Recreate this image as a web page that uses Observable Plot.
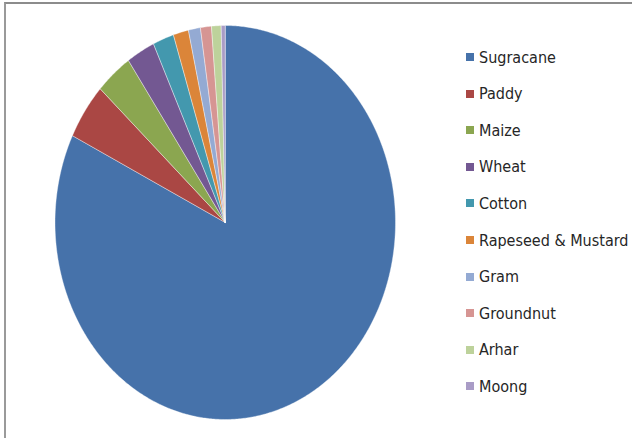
<!DOCTYPE html>
<html>
<head>
<meta charset="utf-8">
<script src="https://cdn.jsdelivr.net/npm/d3@7"></script>
<script src="https://cdn.jsdelivr.net/npm/@observablehq/plot@0.6"></script>
<style>
  html, body { margin: 0; padding: 0; background: #fff; }
  #wrap { position: relative; width: 632px; height: 438px; overflow: hidden; }
  #frame { position: absolute; left: 4px; top: 2px; right: 0; bottom: 0; border-top: 2px solid #8c8c8c; border-left: 2px solid #9a9a9a; }
  #chart { position: absolute; left: 0; top: 0; }
  #legend { position: absolute; left: 466px; top: 0; font-family: "Liberation Sans Narrow", "DejaVu Sans Condensed", sans-serif; font-size: 16px; color: #262626; }
  .item { position: absolute; left: 0; white-space: nowrap; display: flex; align-items: center; height: 20px; }
  .sw { width: 8px; height: 8px; margin-right: 5px; }
</style>
</head>
<body>
<div id="wrap">
  <div id="frame"></div>
  <div id="chart"></div>
  <div id="legend"></div>
</div>
<script>
const crops = ["Sugracane", "Paddy", "Maize", "Wheat", "Cotton", "Rapeseed & Mustard", "Gram", "Groundnut", "Arhar", "Moong"];
const shares = [82.2, 4.6, 3.5, 2.7, 2.0, 1.45, 1.14, 1.04, 0.91, 0.38];
const colors = ["#4672aa", "#aa4744", "#8ba650", "#735892", "#4398ae", "#db8539", "#94aad3", "#d69593", "#bdd29b", "#a99cc6"];

const total = d3.sum(shares);
const pts = [];
let acc = 0;
crops.forEach((name, i) => {
  const a0 = acc / total * 2 * Math.PI;
  acc += shares[i];
  const a1 = acc / total * 2 * Math.PI;
  const n = Math.max(2, Math.ceil((a1 - a0) / (Math.PI / 360)));
  pts.push({name, x: 0, y: 0});
  for (let k = 0; k <= n; k++) {
    const t = a0 + (a1 - a0) * k / n;
    pts.push({name, x: Math.sin(t), y: Math.cos(t)});
  }
  pts.push({name, x: 0, y: 0});
});

const plot = Plot.plot({
  width: 632,
  height: 438,
  margin: 0,
  x: {domain: [-1, 1], range: [54.5, 395], axis: null},
  y: {domain: [-1, 1], range: [419, 25], axis: null},
  color: {domain: crops, range: colors},
  style: {background: "transparent"},
  marks: [
    Plot.line(pts, {x: "x", y: "y", z: "name", fill: "name", stroke: "#ffffff", strokeWidth: 0.7, strokeOpacity: 0.55, curve: "linear"})
  ]
});
document.getElementById("chart").appendChild(plot);

const legend = document.getElementById("legend");
crops.forEach((name, i) => {
  const it = document.createElement("div");
  it.className = "item";
  it.style.top = (57 + i * 36.6 - 10) + "px";
  const sw = document.createElement("span");
  sw.className = "sw";
  sw.style.background = colors[i];
  const tx = document.createElement("span");
  tx.textContent = name;
  it.appendChild(sw);
  it.appendChild(tx);
  legend.appendChild(it);
});
</script>
</body>
</html>
